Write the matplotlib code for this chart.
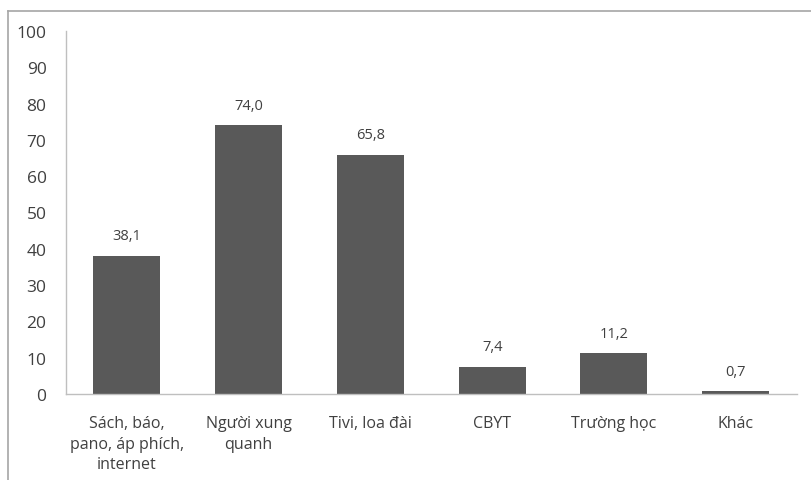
import matplotlib
matplotlib.use("Agg")
import matplotlib.pyplot as plt
from matplotlib.lines import Line2D

# ── Data ───────────────────────────────────────────────────────────────────
categories = ["Sách, báo,\npano, áp phích,\ninternet", "Người xung\nquanh",
              "Tivi, loa đài", "CBYT", "Trường học", "Khác"]
values     = [38.1, 74.0, 65.8, 7.4, 11.2, 0.7]
yticks     = list(range(0, 101, 10))

BAR_COLOR  = "#595959"
TEXT_COLOR = "#404040"
plt.rcParams["font.family"] = ["Open Sans", "DejaVu Sans"]

fig = plt.figure(figsize=(8.12, 4.81), dpi=100)
ax  = fig.add_axes([0.0813, 0.1788, 0.8997, 0.7547])

x = range(len(categories))
bars = ax.bar(x, values, width=0.55, color=BAR_COLOR, edgecolor="none")
for b, v in zip(bars, values):
    ax.text(b.get_x() + b.get_width() / 2, v + 3.5, f"{v:.1f}".replace(".", ","),
            ha="center", va="bottom", fontsize=10.5, color=TEXT_COLOR)

ax.set_xlim(-0.5, len(categories) - 0.5)
ax.set_ylim(0, 100)
ax.set_yticks(yticks)
ax.set_yticklabels([str(t) for t in yticks], fontsize=12.5, color=TEXT_COLOR)
ax.set_xticks(list(x))
ax.set_xticklabels(categories, fontsize=11.5, color=TEXT_COLOR, linespacing=1.4)
ax.tick_params(axis="y", length=0, pad=14)
ax.tick_params(axis="x", length=0, pad=15)

for s in ("top", "right"):
    ax.spines[s].set_visible(False)
for s in ("left", "bottom"):
    ax.spines[s].set_color("#bfbfbf")
    ax.spines[s].set_linewidth(1.0)

# outer chart border (left and top)
fig.add_artist(Line2D([8 / 812, 8 / 812], [0, 1 - 12 / 481],
                      transform=fig.transFigure, color="#a6a6a6", lw=1.2))
fig.add_artist(Line2D([8 / 812, 1], [1 - 12 / 481, 1 - 12 / 481],
                      transform=fig.transFigure, color="#a6a6a6", lw=1.2))

fig.savefig("out.png", dpi=100)
